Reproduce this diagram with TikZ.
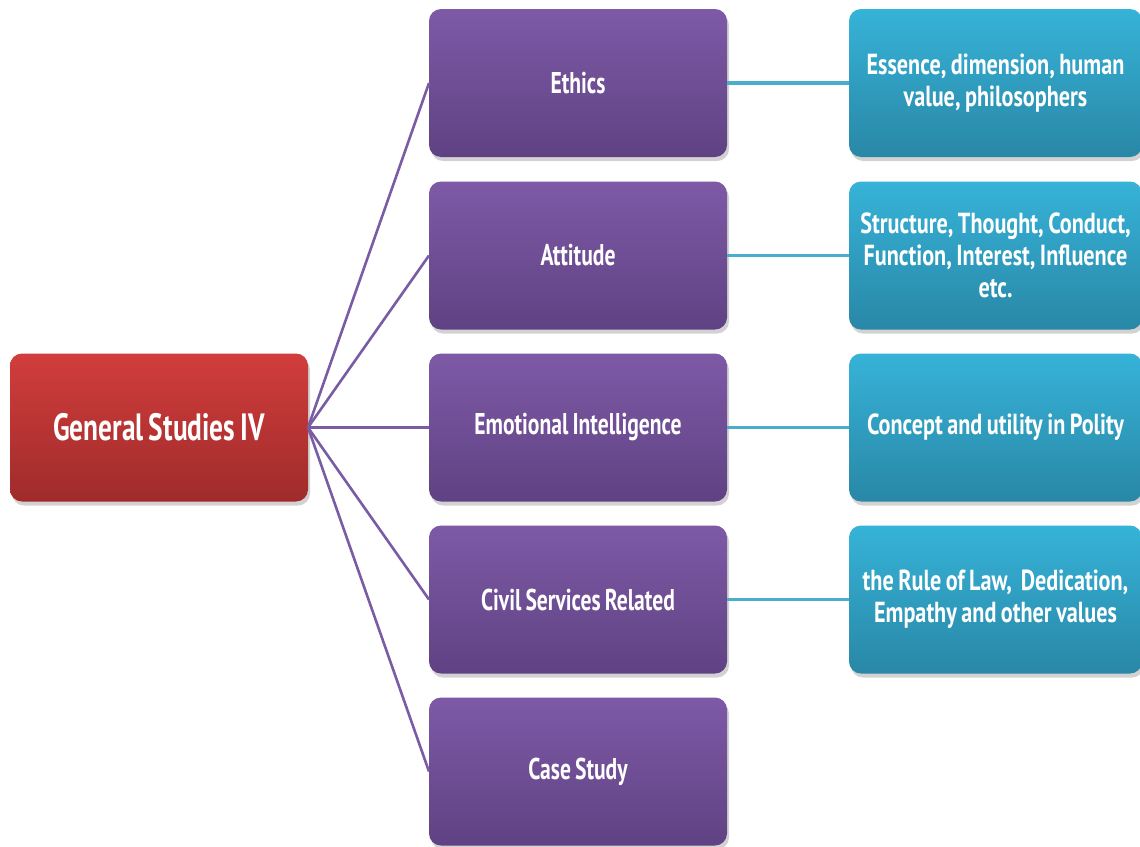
\documentclass[tikz,border=0pt]{standalone}
\usepackage{fontspec}
\newfontfamily\agency[FakeStretch=0.72,WordSpace=0.75]{PT Sans}
\newfontfamily\agencywide[FakeStretch=0.765,WordSpace=0.8]{PT Sans}
\usetikzlibrary{shadows}
\definecolor{redtop}{HTML}{D13D3C}
\definecolor{redbot}{HTML}{A02B2B}
\definecolor{purtop}{HTML}{7E5AA6}
\definecolor{purbot}{HTML}{5F4283}
\definecolor{blutop}{HTML}{36B3D8}
\definecolor{blubot}{HTML}{2987A6}
\definecolor{purline}{HTML}{7A5CA4}
\definecolor{bluline}{HTML}{4AADCB}
\tikzset{
  box/.style={rounded corners=12pt, minimum width=298pt, minimum height=148pt,
    inner sep=4pt, text=white, align=center, outer sep=0pt,
    font=\agency\bfseries\fontsize{30}{33}\selectfont,
    drop shadow={opacity=0.35, shadow xshift=2pt, shadow yshift=-4pt}},
  rootbox/.style={box, top color=redtop, bottom color=redbot,
    font=\agency\bfseries\fontsize{38}{40}\selectfont},
  topicbox/.style={box, top color=purtop, bottom color=purbot},
  detailbox/.style={box, top color=blutop, bottom color=blubot, minimum width=293pt,
    font=\agencywide\bfseries\fontsize{29}{32}\selectfont},
  purlink/.style={draw=purline, line width=2.6pt},
  blulink/.style={draw=bluline, line width=3.5pt},
}
\begin{document}
\begin{tikzpicture}[x=1pt,y=-1pt]
\useasboundingbox (0,0) rectangle (1140,846);
\fill[white] (0,0) rectangle (1140,846);
\node[rootbox] (gs) at (159,427.5) {General Studies IV};
\node[topicbox] (eth) at (578,83) {Ethics};
\node[topicbox] (att) at (578,255.5) {Attitude};
\node[topicbox] (emo) at (578,427.5) {Emotional Intelligence};
\node[topicbox] (civ) at (578,599.5) {Civil Services Related};
\node[topicbox] (cas) at (578,771.5) {Case Study};
\node[detailbox] (ess) at (995.5,83) {Essence, dimension, human\\value, philosophers};
\node[detailbox] (str) at (995.5,255.5) {Structure, Thought, Conduct,\\Function, Interest, Influence\\etc.};
\node[detailbox] (con) at (995.5,427.5) {Concept and utility in Polity};
\node[detailbox] (rul) at (995.5,599.5) {the Rule of Law,~ Dedication,\\Empathy and other values};
\foreach \t in {eth,att,emo,civ,cas}{
  \draw[purlink] (gs.east) -- (\t.west);
}
\draw[blulink] (eth.east) -- (ess.west);
\draw[blulink] (att.east) -- (str.west);
\draw[blulink] (emo.east) -- (con.west);
\draw[blulink] (civ.east) -- (rul.west);
\end{tikzpicture}
\end{document}
